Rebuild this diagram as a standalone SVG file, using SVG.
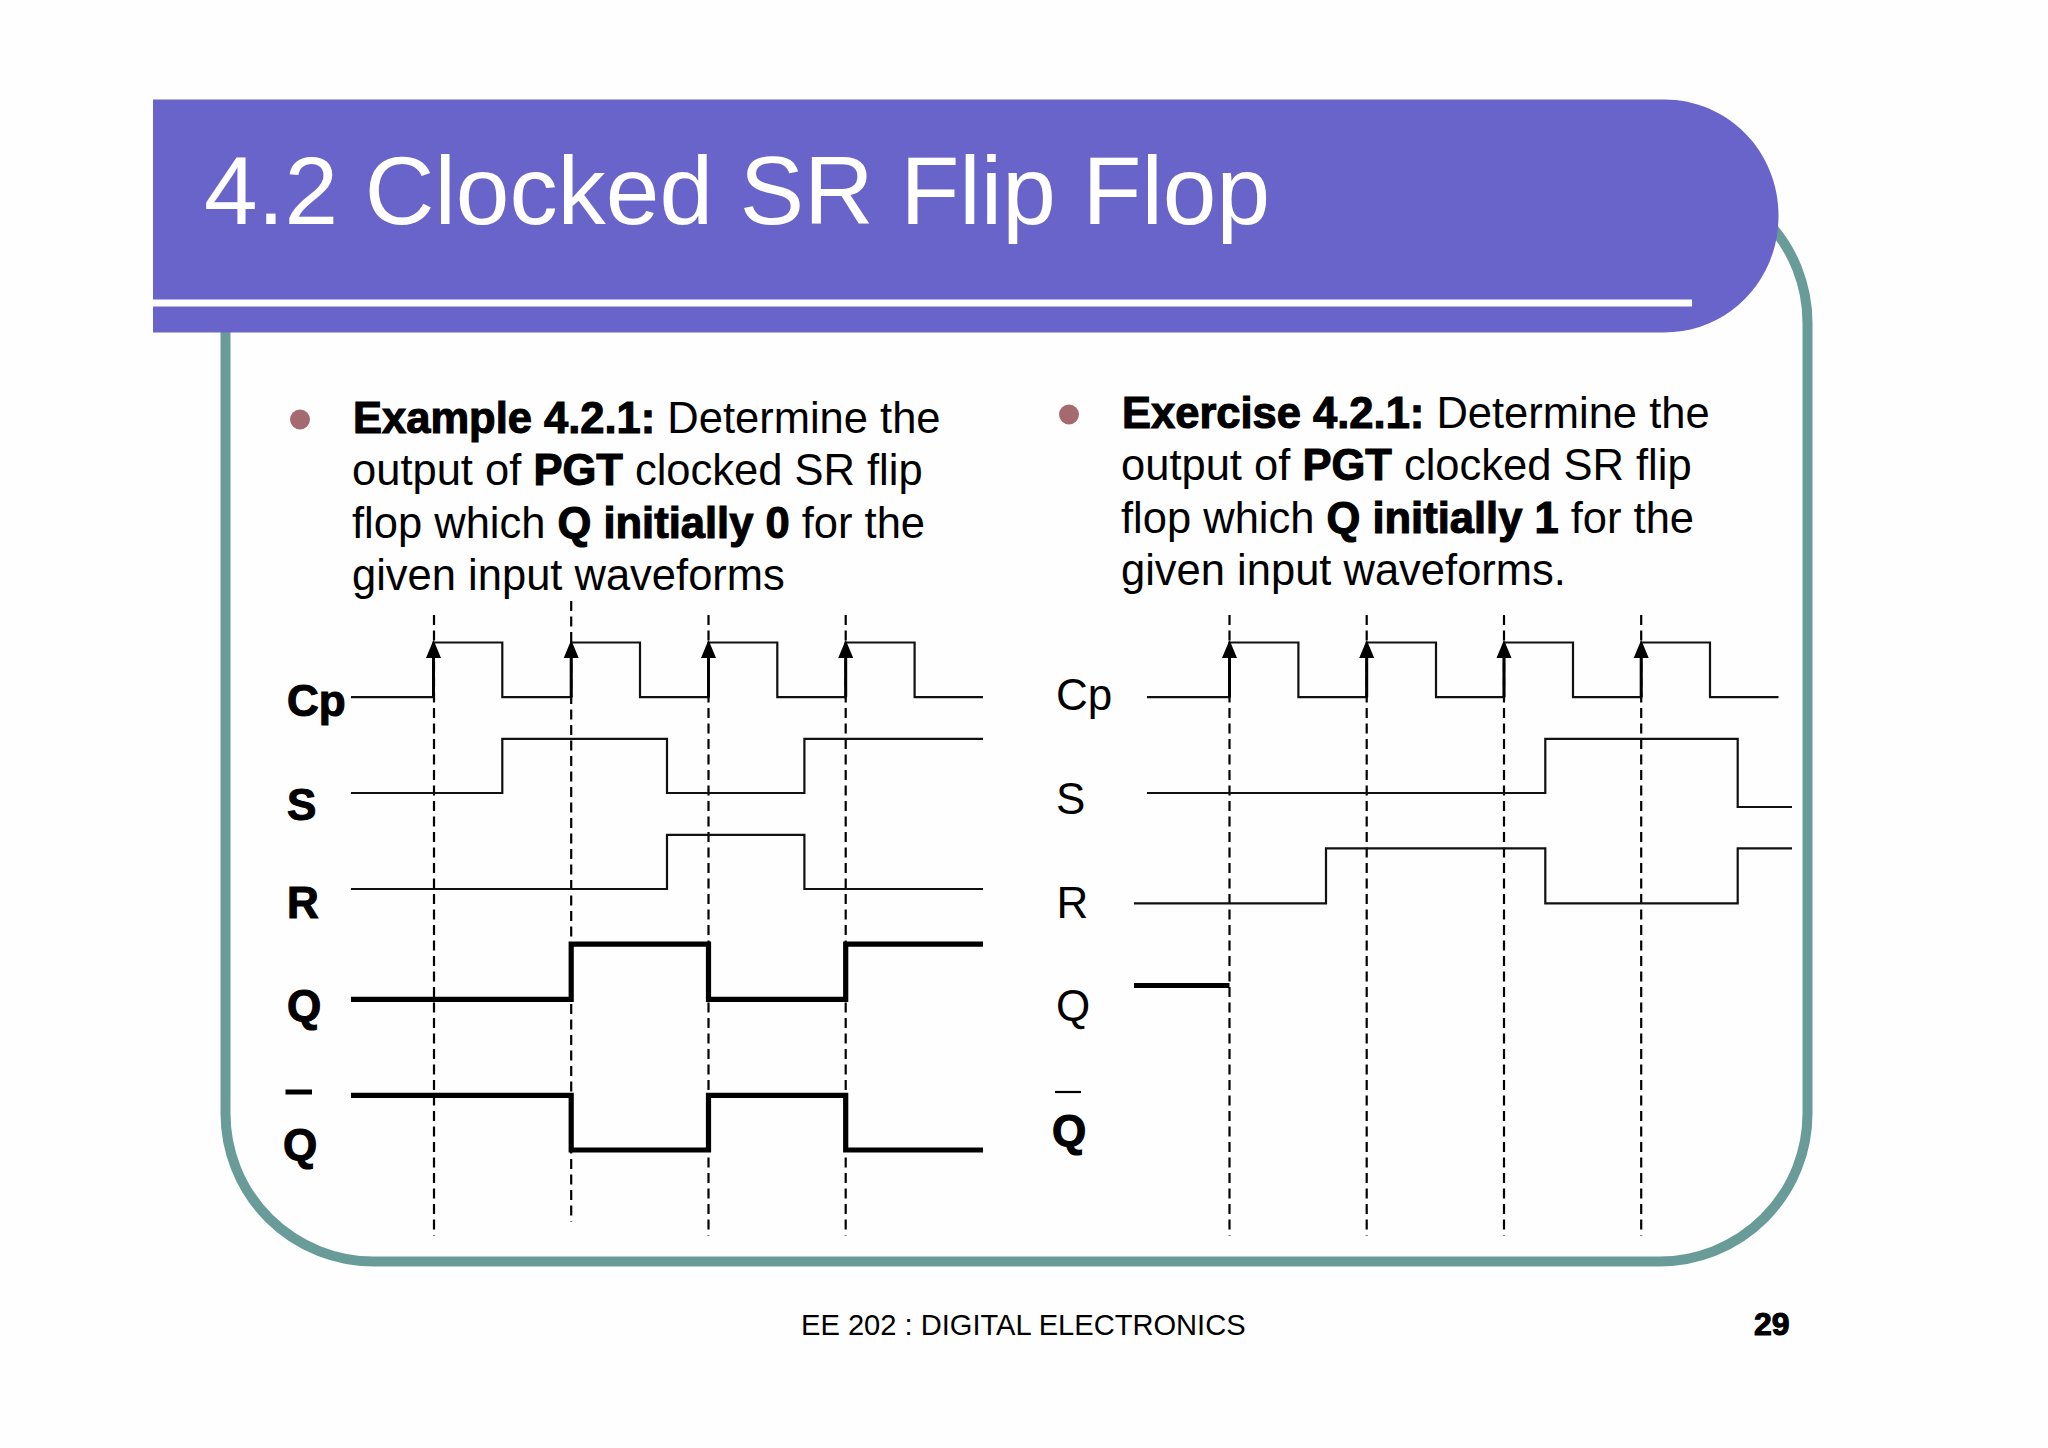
<svg xmlns="http://www.w3.org/2000/svg" width="2048" height="1448" viewBox="0 0 2048 1448">
<style>
text{font-family:"Liberation Sans",Arial,sans-serif;fill:#000}
.b{font-weight:700;stroke:#000;stroke-width:1.1}
.body{font-size:43.5px}
.lab{font-size:44px}
.w{fill:none;stroke:#111;stroke-width:2.2;stroke-linejoin:miter}
.t{fill:none;stroke:#000;stroke-width:5.2}
.d{fill:none;stroke:#000;stroke-width:2.2;stroke-dasharray:10 5.5}
.e{fill:none;stroke:#000;stroke-width:3}
.bul{fill:#a46a6f}
</style>
<defs><path id="ah" d="M0 0L7.5 18H-7.5Z" fill="#000"/></defs>
<rect width="2048" height="1448" fill="#fefefe"/>
<g id="slide">
<rect x="225.5" y="175" width="1582" height="1086.5" rx="148" ry="148" fill="#fefefe" stroke="#699c98" stroke-width="10"/>
<path d="M153 99.5H1664C1728 99.5 1778.5 151 1778.5 216C1778.5 281 1728 332.5 1664 332.5H153Z" fill="#6864ca"/>
<rect x="153" y="299.5" width="1539" height="7" fill="#fff"/>
<text x="204" y="224" font-size="96.4" style="fill:#fff">4.2 Clocked SR Flip Flop</text>
</g>
<g id="example-text">
<ellipse class="bul" cx="300" cy="419.5" rx="10" ry="10"/>
<text class="body" x="353" y="433"><tspan class="b">Example 4.2.1:</tspan> Determine the</text>
<text class="body" x="352" y="485"><tspan>output of </tspan><tspan class="b">PGT</tspan> clocked SR flip</text>
<text class="body" x="352" y="537.5">flop which <tspan class="b">Q initially 0</tspan> for the</text>
<text class="body" x="352" y="589.5">given input waveforms</text>
</g>
<g id="exercise-text">
<ellipse class="bul" cx="1069" cy="414.5" rx="10" ry="10"/>
<text class="body" x="1122" y="428"><tspan class="b">Exercise 4.2.1:</tspan> Determine the</text>
<text class="body" x="1121" y="480"><tspan>output of </tspan><tspan class="b">PGT</tspan> clocked SR flip</text>
<text class="body" x="1121" y="532.5">flop which <tspan class="b">Q initially 1</tspan> for the</text>
<text class="body" x="1121" y="584.5">given input waveforms.</text>
</g>
<g id="example-labels">
<text class="lab b" x="287" y="715.5">Cp</text>
<text class="lab b" x="287" y="819.5">S</text>
<text class="lab b" x="287" y="917.5">R</text>
<text class="lab b" x="287" y="1020.5">Q</text>
<line x1="285.5" y1="1092" x2="312" y2="1092" stroke="#000" stroke-width="5"/>
<text class="lab b" x="283" y="1159.5">Q</text>
</g>
<g id="exercise-labels">
<text class="lab" x="1056" y="709.5">Cp</text>
<text class="lab" x="1056" y="813.5">S</text>
<text class="lab" x="1056.5" y="917.5">R</text>
<text class="lab" x="1056" y="1021">Q</text>
<line x1="1055" y1="1092" x2="1081" y2="1092" stroke="#000" stroke-width="2.2"/>
<text class="lab b" x="1052" y="1146">Q</text>
</g>
<g id="connectors" transform="translate(0 1)">
<g id="example-waves">
<path class="d" d="M434 614V1234.5M571.2 600V1220.6M708.5 614V1234.5M845.7 614V1234.5"/>
<path class="w" d="M351 696.2H433.5V641.5H502.3V696.2H571.2V641.5H640V696.2H708.5V641.5H777.3V696.2H845.7V641.5H914.6V696.2H983"/>
<path class="e" d="M433.5 696.2V650M571.2 696.2V650M708.5 696.2V650M845.7 696.2V650"/>
<use href="#ah" x="433.5" y="639"/><use href="#ah" x="571.2" y="639"/><use href="#ah" x="708.5" y="639"/><use href="#ah" x="845.7" y="639"/>
<path class="w" d="M351 792H502.3V737.8H667V792H804.4V737.8H983"/>
<path class="w" d="M351 888H667V833.8H804.4V888H983"/>
<path class="t" d="M351 998.4H571.2V943.2H708.5V998.4H845.7V943.2H983"/>
<path class="t" d="M351 1094.3H571.2V1149H708.5V1094.3H845.7V1149H983"/>
</g>
<g id="exercise-waves">
<path class="d" d="M1229.5 614V1234.5M1366.7 614V1234.5M1504 614V1234.5M1641.2 614V1234.5"/>
<path class="w" d="M1147 696.2H1229.5V641.5H1298.4V696.2H1366.7V641.5H1436V696.2H1504V641.5H1573V696.2H1641.2V641.5H1710V696.2H1778.5"/>
<path class="e" d="M1229.5 696.2V650M1366.7 696.2V650M1504 696.2V650M1641.2 696.2V650"/>
<use href="#ah" x="1229.5" y="639"/><use href="#ah" x="1366.7" y="639"/><use href="#ah" x="1504" y="639"/><use href="#ah" x="1641.2" y="639"/>
<path class="w" d="M1147 792H1545.3V737.8H1737.7V806H1792"/>
<path class="w" d="M1134 902.4H1326V847.3H1545.3V902.4H1737.7V847.3H1792"/>
<path class="t" d="M1134 984.5H1229.5"/>
</g>
</g>
<g id="footer">
<text x="801" y="1335" font-size="29.1">EE 202 : DIGITAL ELECTRONICS</text>
<text class="b" x="1754" y="1335" font-size="32">29</text>
</g>
</svg>
